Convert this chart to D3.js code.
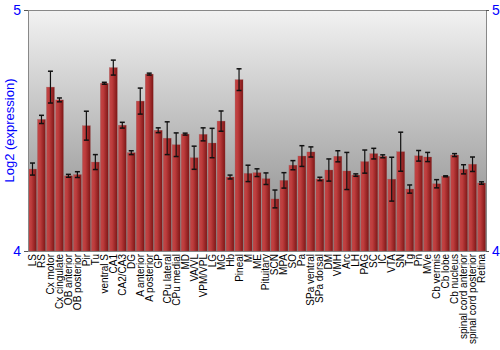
<!DOCTYPE html>
<html>
<head>
<meta charset="utf-8">
<script src="https://cdn.jsdelivr.net/npm/d3@7"></script>
<style>
  body { margin: 0; background: #fff; }
  text { font-family: "Liberation Sans", Arial, sans-serif; }
</style>
</head>
<body>
<svg id="chart" width="500" height="350"></svg>
<script>
var regions = ["LS", "RS", "Cx motor", "Cx cingulate", "OB anterior", "OB posterior", "Pir", "Tu",
  "ventral S", "CA1", "CA2/CA3", "DG", "A anterior", "A posterior", "GP", "CPu lateral", "CPu medial",
  "MD", "VA/VL", "VPM/VPL", "LG", "MG", "Hb", "Pineal", "M", "ME", "Pituitary", "SCN", "MPA", "SO",
  "Pa", "SPa ventral", "SPa dorsal", "DM", "VMH", "Arc", "LH", "PAG", "SC", "IC", "VTA", "SN", "Tg",
  "Pn", "MVe", "Cb vermis", "Cb lobe", "Cb nucleus", "spinal cord anterior", "spinal cord posterior", "Retina"];

var expression = [4.340, 4.546, 4.680, 4.627, 4.312, 4.317, 4.520, 4.369,
  4.696, 4.761, 4.522, 4.408, 4.622, 4.734, 4.501, 4.468, 4.441,
  4.485, 4.387, 4.484, 4.448, 4.539, 4.307, 4.711, 4.322, 4.325, 4.300, 4.216, 4.293, 4.356,
  4.394, 4.411, 4.299, 4.336, 4.393, 4.332, 4.315, 4.371, 4.404, 4.393, 4.298, 4.412, 4.257,
  4.395, 4.390, 4.279, 4.310, 4.398, 4.339, 4.360, 4.282];

var errors = [0.025, 0.017, 0.066, 0.008, 0.006, 0.012, 0.060, 0.031,
  0.004, 0.031, 0.012, 0.008, 0.054, 0.004, 0.010, 0.068, 0.049,
  0.004, 0.048, 0.027, 0.061, 0.042, 0.008, 0.045, 0.034, 0.016, 0.024, 0.037, 0.032, 0.019,
  0.043, 0.021, 0.007, 0.046, 0.023, 0.077, 0.005, 0.048, 0.022, 0.006, 0.091, 0.081, 0.017,
  0.022, 0.019, 0.017, 0.002, 0.006, 0.019, 0.030, 0.005];

var yTicks = [4, 5];

var data = regions.map(function (r, i) {
  return { name: r, value: expression[i], err: errors[i] };
});

var svg = d3.select("#chart"),
  margin = { top: 10, right: 14, bottom: 99, left: 28 },
  width = +svg.attr("width") - margin.left - margin.right,
  height = +svg.attr("height") - margin.top - margin.bottom;

var x = d3.scaleBand()
  .domain(regions)
  .range([margin.left, margin.left + width])
  .paddingInner(0)
  .paddingOuter(0);

var y = d3.scaleLinear()
  .domain([4, 5])
  .range([margin.top + height, margin.top]);

var defs = svg.append("defs");

var bg = defs.append("linearGradient")
  .attr("id", "bg")
  .attr("x1", 0).attr("y1", 0).attr("x2", 0).attr("y2", 1);
bg.append("stop").attr("offset", "0%").attr("stop-color", "#f2f2f2");
bg.append("stop").attr("offset", "100%").attr("stop-color", "#858585");

var barGrad = defs.append("linearGradient")
  .attr("id", "bar")
  .attr("x1", 0).attr("y1", 0).attr("x2", 1).attr("y2", 0);
barGrad.append("stop").attr("offset", "0%").attr("stop-color", "#c24646");
barGrad.append("stop").attr("offset", "35%").attr("stop-color", "#bd3c3c");
barGrad.append("stop").attr("offset", "100%").attr("stop-color", "#7e1616");

// plot background
svg.append("rect")
  .attr("x", margin.left)
  .attr("y", margin.top)
  .attr("width", width)
  .attr("height", height)
  .style("fill", "url(#bg)");

// bars
svg.append("g")
  .selectAll("rect")
  .data(data)
  .enter()
  .append("rect")
  .attr("x", (d) => x(d.name) + 0.5)
  .attr("y", (d) => y(d.value))
  .attr("width", x.bandwidth() - 1)
  .attr("height", (d) => y(4) - y(d.value))
  .style("fill", "url(#bar)")
  .style("stroke", "#9a5a5a")
  .style("stroke-width", 0.5)
  .style("stroke-opacity", 0.5);

// error bars
var eb = svg.append("g")
  .selectAll("g")
  .data(data)
  .enter()
  .append("g")
  .attr("transform", (d) => "translate(" + (x(d.name) + x.bandwidth() / 2) + ",0)");

eb.append("line")
  .attr("x1", 0).attr("x2", 0)
  .attr("y1", (d) => y(d.value + d.err))
  .attr("y2", (d) => y(d.value - d.err))
  .style("stroke", "#111")
  .attr("stroke-width", 1.2);

eb.append("line")
  .attr("x1", -2.5).attr("x2", 2.5)
  .attr("y1", (d) => y(d.value + d.err))
  .attr("y2", (d) => y(d.value + d.err))
  .style("stroke", "#111")
  .attr("stroke-width", 1.5);

eb.append("line")
  .attr("x1", -2.5).attr("x2", 2.5)
  .attr("y1", (d) => y(d.value - d.err))
  .attr("y2", (d) => y(d.value - d.err))
  .style("stroke", "#111")
  .attr("stroke-width", 1.5);

// frame
svg.append("rect")
  .attr("x", margin.left)
  .attr("y", margin.top)
  .attr("width", width)
  .attr("height", height)
  .style("fill", "none")
  .style("stroke", "#888")
  .attr("stroke-width", 1)
  .style("shape-rendering", "crispEdges");

// axes
var yLeft = svg.append("g")
  .attr("transform", "translate(" + margin.left + ",0)")
  .call(d3.axisLeft(y).tickValues(yTicks).tickFormat(d3.format("d")).tickSize(4));
var yRight = svg.append("g")
  .attr("transform", "translate(" + (margin.left + width) + ",0)")
  .call(d3.axisRight(y).tickValues(yTicks).tickFormat(d3.format("d")).tickSize(3));

[yLeft, yRight].forEach(function (g) {
  g.select(".domain").remove();
  g.selectAll(".tick line").style("stroke", "#555");
  g.selectAll(".tick text")
    .style("fill", "#0000ff")
    .style("font-size", "14px")
    .style("font-family", "Liberation Sans, Arial, sans-serif");
});

// category labels
svg.append("g")
  .selectAll("text")
  .data(regions)
  .enter()
  .append("text")
  .attr("transform", (d) => "translate(" + (x(d) + x.bandwidth() / 2 + 3.5) + "," + (margin.top + height + 3) + ") rotate(-90)")
  .attr("text-anchor", "end")
  .style("font-size", "10px")
  .style("fill", "#000")
  .text((d) => d);

// y label
svg.append("text")
  .attr("transform", "translate(14," + (margin.top + height / 2) + ") rotate(-90)")
  .attr("text-anchor", "middle")
  .style("font-size", "13px")
  .style("fill", "#0000ff")
  .text("Log2 (expression)");
</script>
</body>
</html>
